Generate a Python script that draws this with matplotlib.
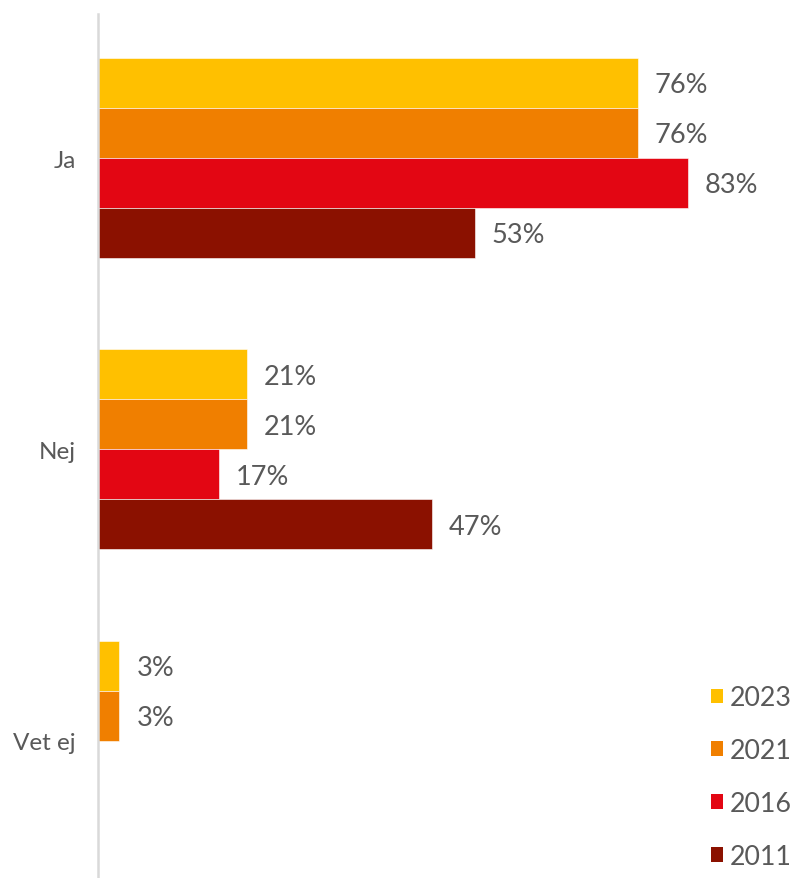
import numpy as np
import matplotlib.pyplot as plt
from matplotlib.patches import Patch

# -------------------------------------------------------
# DATA
# -------------------------------------------------------

categories = ["Ja", "Nej", "Vet ej"]
years = ["2023", "2021", "2016", "2011"]

values_2023 = [76, 21, 3]
values_2021 = [76, 21, 3]
values_2016 = [83, 17, None]
values_2011 = [53, 47, None]

series = [values_2023, values_2021, values_2016, values_2011]
colors = ["#FFC000", "#F07F00", "#E30613", "#8B1100"]

text_color = "#595959"

# -------------------------------------------------------
# PLOT
# -------------------------------------------------------

plt.rcParams['font.family'] = ['Lato', 'DejaVu Sans']

fig = plt.figure(figsize=(7.92, 8.79), dpi=100)
ax = fig.add_axes([98 / 792, 0, 694 / 792, 864 / 879])

y = np.arange(len(categories))
bar_h = 50 / 291.5
offsets = (np.arange(len(years)) - 1.5) * bar_h

for vals, off, col, yr in zip(series, offsets, colors, years):
    for i, v in enumerate(vals):
        if v is None:
            continue
        ax.barh(y[i] + off, v, height=bar_h, color=col,
                edgecolor="white", linewidth=0.4)
        ax.text(v + 17 / 7.105, y[i] + off + 0.006, f"{v}%",
                va="center", ha="left", fontsize=19.5, color=text_color)

ax.set_ylim(2.470, -0.494)
ax.set_xlim(0, 694 / 7.105)

ax.set_yticks(y)
ax.set_yticklabels(categories, fontsize=17.5, color=text_color)
ax.tick_params(axis="y", length=0, pad=16)
ax.set_xticks([])

for s in ["top", "right", "bottom"]:
    ax.spines[s].set_visible(False)
ax.spines["left"].set_color("#d9d9d9")
ax.spines["left"].set_linewidth(1.8)

handles = [Patch(facecolor=c, edgecolor="none") for c in colors]
leg = ax.legend(handles, years, loc="lower right",
                bbox_to_anchor=(1.0 + 12 / 694, -3 / 864),
                frameon=False, fontsize=19.3,
                handlelength=0.45, handleheight=0.45,
                handletextpad=0.26, labelspacing=1.04,
                borderaxespad=0.05)
for t in leg.get_texts():
    t.set_color(text_color)

fig.savefig("out.png", dpi=100)
